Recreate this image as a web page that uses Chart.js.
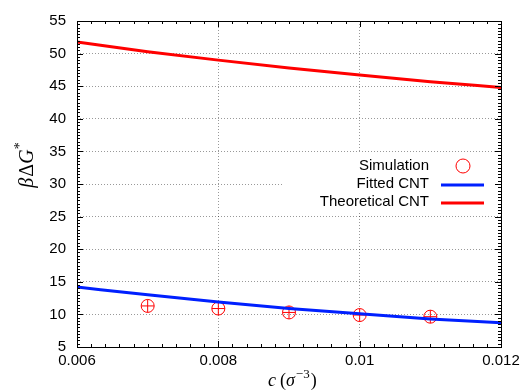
<!DOCTYPE html>
<html>
<head>
<meta charset="utf-8">
<script src="https://cdn.jsdelivr.net/npm/chart.js@4.4.1/dist/chart.umd.min.js"></script>
<style>
  html, body { margin: 0; padding: 0; background: #fff; }
  #wrap { width: 530px; height: 390px; }
</style>
</head>
<body>
<div id="wrap"><canvas id="chart" width="530" height="390"></canvas></div>
<script>
// data
const conc = [0.006, 0.007, 0.008, 0.009, 0.010, 0.011, 0.012];
const theoretical = [51.8, 50.3, 49.0, 47.8, 46.7, 45.7, 44.8];
const fitted = [14.2, 13.0, 11.9, 10.9, 10.1, 9.3, 8.7];
const simConc = [0.007, 0.008, 0.009, 0.010, 0.011];
const simulation = [11.3, 10.9, 10.3, 9.9, 9.65];

const xTicks = [0.006, 0.008, 0.010, 0.012];
const xTickLabels = ["0.006", "0.008", "0.01", "0.012"];
const yTicks = [5, 10, 15, 20, 25, 30, 35, 40, 45, 50, 55];
const seriesNames = ["Simulation", "Fitted CNT", "Theoretical CNT"];

const RED = "#ff0000";
const BLUE = "#0020ff";
const SANS = "'Liberation Sans', Arial, sans-serif";
const SERIF = "'Liberation Serif', 'Times New Roman', serif";

Chart.defaults.font.family = SANS;
Chart.defaults.font.size = 15;
Chart.defaults.color = "#000";

const pts = (xs, ys) => xs.map((x, i) => ({ x: x, y: ys[i] }));

// text made of pieces with different fonts (axis titles)
function drawPieces(ctx, pieces, x, y) {
  for (const p of pieces) {
    ctx.font = p.font;
    ctx.fillText(p.t, x, y + (p.dy || 0));
    x += ctx.measureText(p.t).width + (p.gap || 0);
  }
}
function piecesWidth(ctx, pieces) {
  let w = 0;
  for (const p of pieces) { ctx.font = p.font; w += ctx.measureText(p.t).width + (p.gap || 0); }
  return w;
}

/* gnuplot-ish frame, inward ticks, key and axis titles */
const framePlugin = {
  id: "frame",
  beforeDatasetsDraw(chart) {
    // key box is opaque, hides the grid behind it
    const ctx = chart.ctx;
    ctx.save();
    ctx.fillStyle = "#fff";
    ctx.fillRect(282, 153, 214, 60);
    ctx.restore();
  },
  afterDraw(chart) {
    const { ctx, chartArea: a, scales: { x, y } } = chart;
    ctx.save();
    ctx.strokeStyle = "#000";
    ctx.lineWidth = 1;
    ctx.beginPath();
    for (let i = 0; i <= 30; i++) {
      const px = Math.round(x.getPixelForValue(0.006 + i * 0.0002)) + 0.5;
      const len = i % 10 === 0 ? 6 : 3;
      ctx.moveTo(px, a.bottom); ctx.lineTo(px, a.bottom - len);
      ctx.moveTo(px, a.top); ctx.lineTo(px, a.top + len);
    }
    for (let i = 0; i <= 100; i++) {
      const py = Math.round(y.getPixelForValue(5 + i * 0.5)) + 0.5;
      const len = i % 10 === 0 ? 6 : 3;
      ctx.moveTo(a.left, py); ctx.lineTo(a.left + len, py);
      ctx.moveTo(a.right, py); ctx.lineTo(a.right - len, py);
    }
    ctx.stroke();
    ctx.strokeRect(Math.round(a.left) + 0.5, Math.round(a.top) + 0.5,
      Math.round(a.right - a.left), Math.round(a.bottom - a.top));

    // key
    ctx.fillStyle = "#000";
    ctx.font = "15px " + SANS;
    ctx.textAlign = "right";
    ctx.textBaseline = "alphabetic";
    ctx.fillText(seriesNames[0], 429, 170);
    ctx.fillText(seriesNames[1], 429, 188);
    ctx.fillText(seriesNames[2], 429, 206);
    ctx.strokeStyle = RED;
    ctx.beginPath();
    ctx.arc(463, 166, 7, 0, Math.PI * 2);
    ctx.stroke();
    ctx.lineWidth = 3;
    ctx.strokeStyle = BLUE;
    ctx.beginPath(); ctx.moveTo(441, 185); ctx.lineTo(484, 185); ctx.stroke();
    ctx.strokeStyle = RED;
    ctx.beginPath(); ctx.moveTo(441, 203); ctx.lineTo(484, 203); ctx.stroke();

    // axis titles
    ctx.fillStyle = "#000";
    ctx.textAlign = "left";
    const xTitle = [
      { t: "c", font: "italic 18px " + SERIF, gap: 4 },
      { t: "(", font: "18px " + SERIF },
      { t: "σ", font: "italic 18px " + SERIF, gap: 1 },
      { t: "−3", font: "13px " + SERIF, dy: -8, gap: 1 },
      { t: ")", font: "18px " + SERIF }
    ];
    drawPieces(ctx, xTitle, 268, 386);

    const yTitle = [
      { t: "β", font: "italic 20px " + SERIF, gap: 1 },
      { t: "Δ", font: "20px " + SERIF },
      { t: "G", font: "italic 20px " + SERIF },
      { t: "*", font: "14px " + SERIF, dy: -9 }
    ];
    ctx.translate(33, 165);
    ctx.rotate(-Math.PI / 2);
    drawPieces(ctx, yTitle, -piecesWidth(ctx, yTitle) / 2, 0);
    ctx.restore();
  }
};

new Chart(document.getElementById("chart"), {
  type: "scatter",
  data: {
    datasets: [
      {
        label: seriesNames[2],
        data: pts(conc, theoretical),
        showLine: true,
        borderColor: RED,
        borderWidth: 3,
        pointRadius: 0,
        cubicInterpolationMode: "monotone"
      },
      {
        label: seriesNames[1],
        data: pts(conc, fitted),
        showLine: true,
        borderColor: BLUE,
        borderWidth: 3,
        pointRadius: 0,
        cubicInterpolationMode: "monotone"
      },
      {
        label: seriesNames[0],
        data: pts(simConc, simulation),
        pointStyle: "circle",
        pointRadius: 6.5,
        pointBorderWidth: 1,
        pointBorderColor: RED,
        pointBackgroundColor: "rgba(0,0,0,0)"
      },
      {
        label: seriesNames[0] + " (cross)",
        data: pts(simConc, simulation),
        pointStyle: "cross",
        pointRadius: 6.5,
        pointBorderWidth: 1,
        pointBorderColor: RED
      }
    ]
  },
  options: {
    responsive: false,
    animation: false,
    layout: { padding: { top: 21, right: 29, left: 0, bottom: 0 } },
    plugins: {
      legend: { display: false },
      tooltip: { enabled: false }
    },
    scales: {
      x: {
        type: "linear",
        min: 0.006,
        max: 0.012,
        afterBuildTicks: s => { s.ticks = xTicks.map(v => ({ value: v })); },
        afterFit: s => { s.height = 43; },
        ticks: {
          padding: 5,
          maxRotation: 0,
          callback: (v, i) => xTickLabels[i]
        },
        grid: { color: "rgba(0,0,0,0.4)", drawTicks: false },
        border: { display: false, dash: [1, 2] }
      },
      y: {
        min: 5,
        max: 55,
        afterBuildTicks: s => { s.ticks = yTicks.map(v => ({ value: v })); },
        afterFit: s => { s.width = 77; },
        ticks: { padding: 11 },
        grid: { color: "rgba(0,0,0,0.4)", drawTicks: false },
        border: { display: false, dash: [1, 2] }
      }
    }
  },
  plugins: [framePlugin]
});
</script>
</body>
</html>
